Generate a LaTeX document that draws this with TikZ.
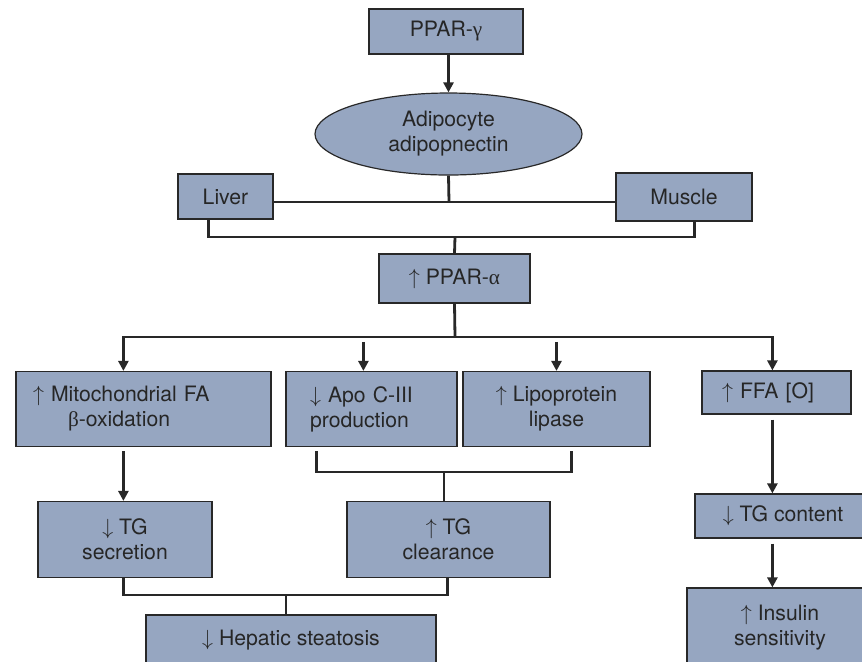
\documentclass[tikz,border=0pt]{standalone}
\usepackage{fontspec}
\setmainfont{TeX Gyre Heros}
\newfontfamily\grk{Liberation Serif}
\usetikzlibrary{shapes.geometric,arrows.meta,calc}

\definecolor{boxfill}{RGB}{150,166,193}
\definecolor{boxline}{RGB}{40,40,40}

\newcommand*{\upa}{$\uparrow$}
\newcommand*{\dna}{$\downarrow$}

\tikzset{
  box/.style={draw=boxline, fill=boxfill, line width=0.6pt, inner sep=0pt,
    align=center, text=black!85, font=\fontsize{10.6}{12.5}\selectfont},
  oval/.style={box, ellipse},
  link/.style={draw=boxline, line width=1.4pt},
  arr/.style={link, -{Triangle[length=5pt,width=5pt]}},
}

\begin{document}
\begin{tikzpicture}[x=0.5pt, y=-0.5pt]
\useasboundingbox (0,0) rectangle (862,661);
\clip (0,0) rectangle (862,661);

% top part
\node[box, minimum width=77pt, minimum height=22.5pt] (ppg) at (446,31.5) {PPAR-{\grk γ}};
\node[oval, minimum width=133.5pt, minimum height=41pt] (adipo) at (448.5,134) {Adipocyte\\adipopnectin};
\node[box, minimum width=47.5pt, minimum height=22.5pt] (liver) at (225.5,196.5) {Liver};
\node[box, minimum width=68pt, minimum height=24pt] (muscle) at (684,197) {Muscle};
\node[box, minimum width=75.5pt, minimum height=24.5pt] (ppa) at (454.5,278.5) {\upa{} PPAR-{\grk α}};

% middle row
\node[box, minimum width=127.5pt, minimum height=37.5pt, inner xsep=8.5pt, text width=110.5pt, align=left]
  (mito) at (143.5,409) {\upa{} Mitochondrial FA\\\hspace*{17.5pt}{\grk β}-oxidation};
\node[box, minimum width=85.5pt, minimum height=37.5pt, inner xsep=12pt, text width=61.5pt, align=left]
  (apo) at (371.5,409) {\dna{} Apo C-III\\production};
\node[box, minimum width=93.5pt, minimum height=37.5pt] (lpl) at (556.5,409) {\upa{} Lipoprotein\\lipase};
\node[box, minimum width=74.5pt, minimum height=21.5pt, inner xsep=10pt, text width=54.5pt, align=left]
  (ffa) at (776.5,392.5) {\upa{} FFA [O]};

% bottom part
\node[box, minimum width=87pt, minimum height=38pt] (tgs) at (125,539.5) {\dna{} TG\\secretion};
\node[box, minimum width=101.5pt, minimum height=38pt] (tgc) at (448.5,539.5) {\upa{} TG\\clearance};
\node[box, minimum width=145pt, minimum height=25pt] (hep) at (291,640) {\dna{} Hepatic steatosis};
\node[box, minimum width=88pt, minimum height=22pt] (tgcont) at (783,516) {\dna{} TG content};
\node[box, minimum width=93pt, minimum height=40pt] (ins) at (780,628) {\upa{} Insulin\\sensitivity};

% junctions
\coordinate (j1) at (449,202);
\coordinate (j2) at (455,237);
\coordinate (j3) at (455,337);
\coordinate (j4) at (444,472);
\coordinate (j5) at (286,595);

% connectors
\draw[arr] (adipo.north |- ppg.south) -- (adipo.north);
\draw[link] (adipo.south) -- (j1);
\draw[link] (liver.east |- j1) -- (muscle.west |- j1);
\draw[link] ($(liver.south west)+(31,0)$) |- (j2) -| ($(muscle.south west)+(79,0)$);
\draw[link] (j2) -- (ppa.north);
\draw[link] (ppa.south) -- (j3);
\draw[arr] (j3) -| ($(mito.north west)+(108,0)$);
\draw[arr] (j3) -| ($(ffa.north west)+(71,0)$);
\draw[arr] ($(apo.north west)+(78,-29)$) -- ($(apo.north west)+(78,0)$);
\draw[arr] ($(lpl.north)+(0,-29)$) -- (lpl.north);

\draw[arr] ($(mito.south west)+(108,4)$) -- ($(tgs.north west)+(86,0)$);
\draw[link] ($(apo.south west)+(31,4)$) |- (j4) -| ($(lpl.south west)+(109,4)$);
\draw[link] (j4) -- (tgc.north -| j4);
\draw[link] ($(tgs.south west)+(86,0)$) |- (j5) -| ($(tgc.south west)+(101,0)$);
\draw[link] (j5) -- (hep.north -| j5);

\draw[arr] ($(ffa.south west)+(71,5)$) -- ($(tgcont.north west)+(78,0)$);
\draw[arr] ($(tgcont.south west)+(78,5)$) -- ($(ins.north west)+(86,0)$);

\end{tikzpicture}
\end{document}
